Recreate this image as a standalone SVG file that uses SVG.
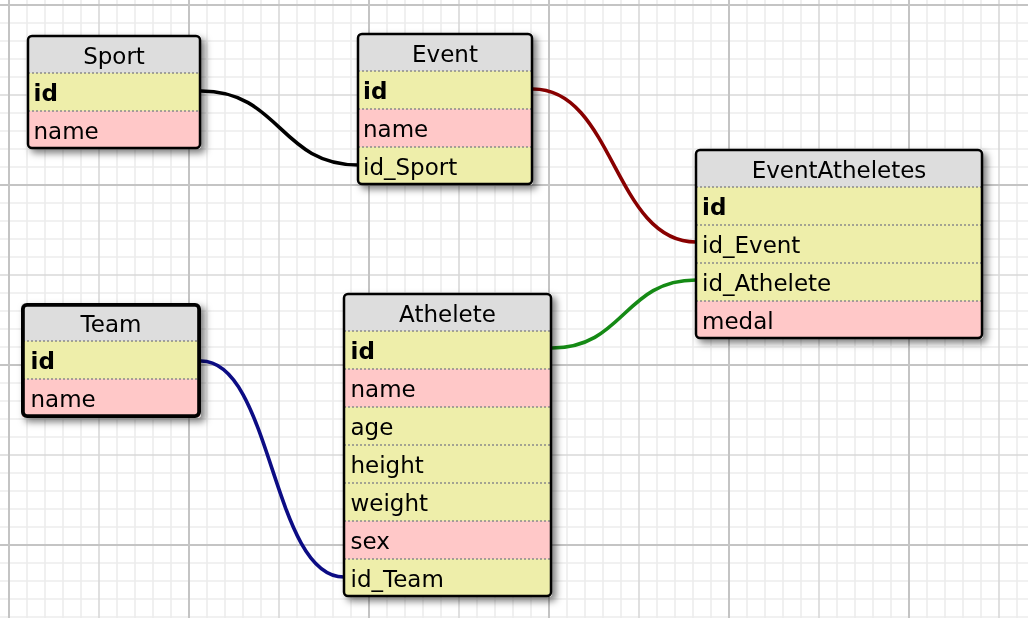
<svg xmlns="http://www.w3.org/2000/svg" width="1028" height="618" viewBox="0 0 1028 618">
  <style>
    .hd { fill: #dddddd; }
    .y { fill: #eeeeaa; }
    .p { fill: #ffc8c8; }
    .sep { stroke: #8a8a8a; stroke-width: 1.6; stroke-dasharray: 2 2; }
    .bd { fill: none; stroke: #000; stroke-width: 2.5; }
    .bd3 { fill: none; stroke: #000; stroke-width: 3.8; }
    text { font-family: "DejaVu Sans", Verdana, sans-serif; font-size: 23px; fill: #000; }
    .h { text-anchor: middle; }
    .k { font-weight: bold; }
    .c { fill: none; stroke-width: 3.6; }
  </style>
  <defs>
    <pattern id="grid" width="180" height="180" patternUnits="userSpaceOnUse" x="8" y="4">
      <rect width="180" height="180" fill="#ffffff"/>
      <path d="M19 0V180M37 0V180M55 0V180M73 0V180M109 0V180M127 0V180M145 0V180M163 0V180M0 19H180M0 37H180M0 55H180M0 73H180M0 109H180M0 127H180M0 145H180M0 163H180" stroke="#ededed" stroke-width="1.6" fill="none"/>
      <path d="M91 0V180M0 91H180" stroke="#d9d9d9" stroke-width="1.6" fill="none"/>
      <path d="M1 0V180M0 1H180" stroke="#c4c4c4" stroke-width="2" fill="none"/>
    </pattern>
    <filter id="sh" x="-10%" y="-10%" width="130%" height="130%">
      <feDropShadow dx="4" dy="4" stdDeviation="3.5" flood-color="#000" flood-opacity="0.5"/>
    </filter>
  </defs>

  <rect width="1028" height="618" fill="url(#grid)"/>

  <g id="connectors">
    <path class="c" stroke="#000000" d="M201 91 C 280 91, 280 165, 358 165"/>
    <path class="c" stroke="#880000" d="M533 89 C 614 89, 614 242, 696 242"/>
    <path class="c" stroke="#158a15" d="M552 348 C 624 348, 624 280, 696 280"/>
    <path class="c" stroke="#0c0c84" d="M201 361 C 272 361, 272 577, 344 577"/>
  </g>

  <g id="sport" filter="url(#sh)">
    <rect class="hd" x="27" y="35" width="174" height="114" rx="4"/>
    <rect class="y" x="28" y="73" width="172" height="38"/>
    <rect class="p" x="28" y="111" width="172" height="37"/>
    <line class="sep" x1="28" y1="73" x2="200" y2="73"/>
    <line class="sep" x1="28" y1="111" x2="200" y2="111"/>
    <rect class="bd" x="28" y="36" width="172" height="112" rx="4"/>
    <text class="h" x="114" y="64">Sport</text>
    <text class="k" x="33.5" y="101">id</text>
    <text x="33.5" y="139">name</text>
  </g>

  <g id="event" filter="url(#sh)">
    <rect class="hd" x="357" y="33" width="176" height="152" rx="4"/>
    <rect class="y" x="358" y="71" width="174" height="38"/>
    <rect class="p" x="358" y="109" width="174" height="38"/>
    <rect class="y" x="358" y="147" width="174" height="37"/>
    <line class="sep" x1="358" y1="71" x2="532" y2="71"/>
    <line class="sep" x1="358" y1="109" x2="532" y2="109"/>
    <line class="sep" x1="358" y1="147" x2="532" y2="147"/>
    <rect class="bd" x="358" y="34" width="174" height="150" rx="4"/>
    <text class="h" x="445" y="62">Event</text>
    <text class="k" x="363" y="99">id</text>
    <text x="363" y="137">name</text>
    <text x="363" y="175">id_Sport</text>
  </g>

  <g id="eventatheletes" filter="url(#sh)">
    <rect class="hd" x="695" y="149" width="288" height="190" rx="4"/>
    <rect class="y" x="696" y="187" width="286" height="38"/>
    <rect class="y" x="696" y="225" width="286" height="38"/>
    <rect class="y" x="696" y="263" width="286" height="38"/>
    <rect class="p" x="696" y="301" width="286" height="37"/>
    <line class="sep" x1="696" y1="187" x2="982" y2="187"/>
    <line class="sep" x1="696" y1="225" x2="982" y2="225"/>
    <line class="sep" x1="696" y1="263" x2="982" y2="263"/>
    <line class="sep" x1="696" y1="301" x2="982" y2="301"/>
    <rect class="bd" x="696" y="150" width="286" height="188" rx="4"/>
    <text class="h" x="839" y="178">EventAtheletes</text>
    <text class="k" x="702" y="215">id</text>
    <text x="702" y="253">id_Event</text>
    <text x="702" y="291">id_Athelete</text>
    <text x="702" y="329">medal</text>
  </g>

  <g id="team" filter="url(#sh)">
    <rect class="hd" x="21" y="303" width="180" height="115" rx="4"/>
    <rect class="y" x="22" y="341" width="178" height="38"/>
    <rect class="p" x="22" y="379" width="178" height="38"/>
    <line class="sep" x1="23" y1="341" x2="199" y2="341"/>
    <line class="sep" x1="23" y1="379" x2="199" y2="379"/>
    <rect class="bd3" x="22.9" y="304.9" width="176.2" height="111.2" rx="4"/>
    <text class="h" x="111" y="332">Team</text>
    <text class="k" x="30.5" y="369">id</text>
    <text x="30.5" y="407">name</text>
  </g>

  <g id="athelete" filter="url(#sh)">
    <rect class="hd" x="343" y="293" width="209" height="304" rx="4"/>
    <rect class="y" x="344" y="331" width="207" height="38"/>
    <rect class="p" x="344" y="369" width="207" height="38"/>
    <rect class="y" x="344" y="407" width="207" height="38"/>
    <rect class="y" x="344" y="445" width="207" height="38"/>
    <rect class="y" x="344" y="483" width="207" height="38"/>
    <rect class="p" x="344" y="521" width="207" height="38"/>
    <rect class="y" x="344" y="559" width="207" height="37"/>
    <line class="sep" x1="344" y1="331" x2="551" y2="331"/>
    <line class="sep" x1="344" y1="369" x2="551" y2="369"/>
    <line class="sep" x1="344" y1="407" x2="551" y2="407"/>
    <line class="sep" x1="344" y1="445" x2="551" y2="445"/>
    <line class="sep" x1="344" y1="483" x2="551" y2="483"/>
    <line class="sep" x1="344" y1="521" x2="551" y2="521"/>
    <line class="sep" x1="344" y1="559" x2="551" y2="559"/>
    <rect class="bd" x="344" y="294" width="207" height="302" rx="4"/>
    <text class="h" x="447.5" y="322">Athelete</text>
    <text class="k" x="350.5" y="359">id</text>
    <text x="350.5" y="397">name</text>
    <text x="350.5" y="435">age</text>
    <text x="350.5" y="473">height</text>
    <text x="350.5" y="511">weight</text>
    <text x="350.5" y="549">sex</text>
    <text x="350.5" y="587">id_Team</text>
  </g>
</svg>
